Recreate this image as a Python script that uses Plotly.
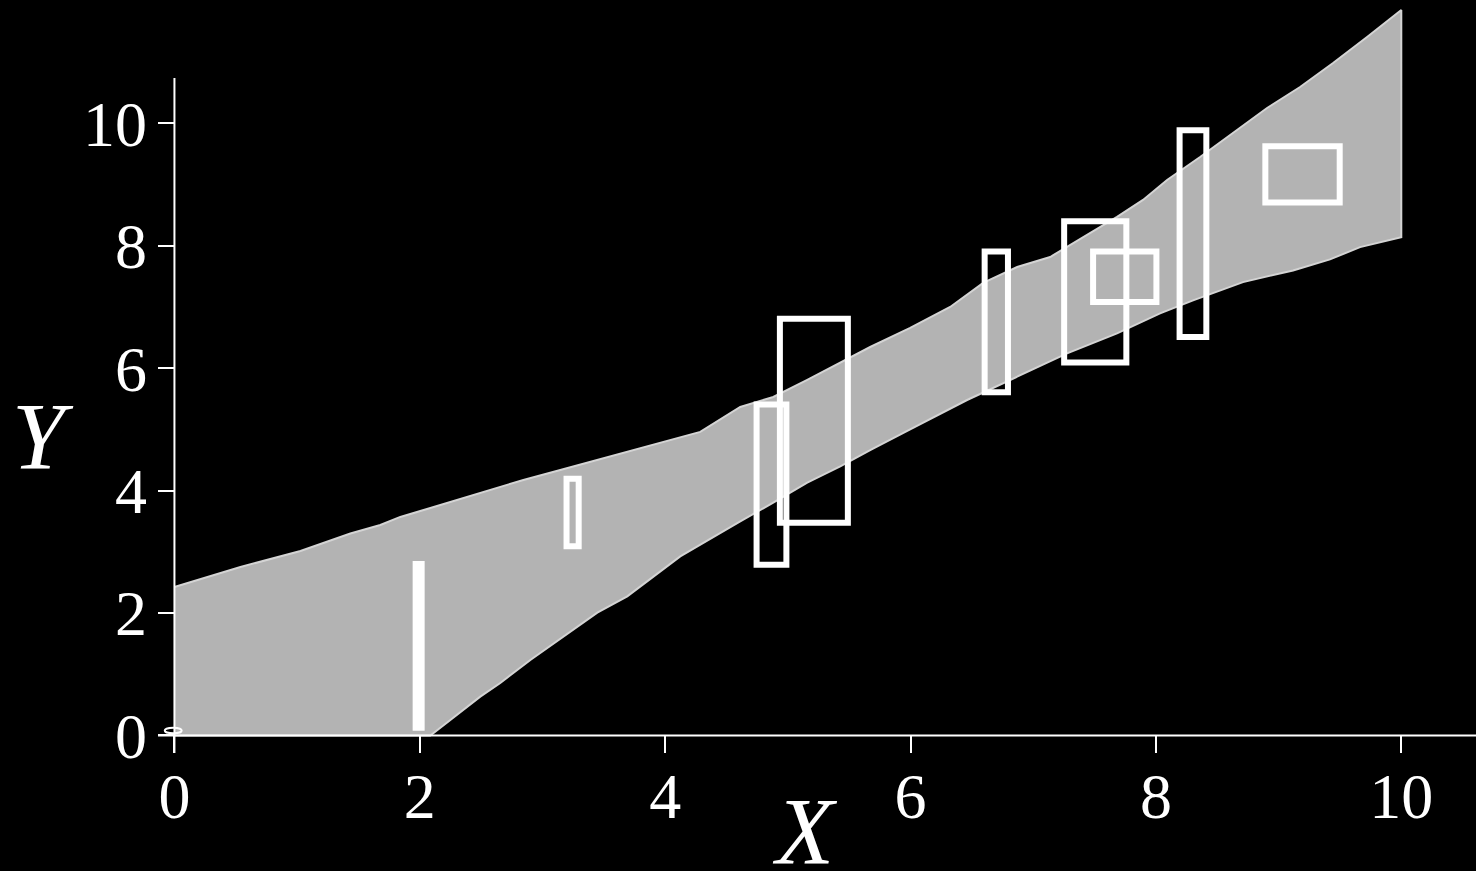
import plotly.graph_objects as go

# Confidence band: upper and lower boundaries
band_upper_x = [0.0, 0.212, 0.538, 1.027, 1.434, 1.678, 1.841, 2.086, 2.355, 2.632, 2.844,
                3.145, 3.471, 3.878, 4.286, 4.612, 4.881, 5.158, 5.427, 5.671, 5.997,
                6.323, 6.592, 6.869, 7.138, 7.407, 7.683, 7.895, 8.091, 8.360, 8.629,
                8.906, 9.175, 9.444, 9.721, 10.0]
band_upper_y = [2.426, 2.557, 2.753, 3.014, 3.300, 3.439, 3.570, 3.717, 3.880, 4.044, 4.174,
                4.338, 4.517, 4.730, 4.959, 5.367, 5.530, 5.808, 6.085, 6.346, 6.657,
                7.000, 7.392, 7.653, 7.816, 8.143, 8.470, 8.748, 9.074, 9.450, 9.842,
                10.250, 10.593, 10.985, 11.410, 11.851]
band_lower_x = [0.0, 2.086, 2.249, 2.493, 2.656, 2.901, 3.170, 3.447, 3.691, 3.903, 4.123,
                4.612, 4.881, 5.158, 5.427, 5.671, 5.997, 6.461, 6.869, 7.276, 7.683,
                8.034, 8.303, 8.710, 9.118, 9.419, 9.664, 10.0]
band_lower_y = [0.0, 0.0, 0.253, 0.634, 0.858, 1.233, 1.614, 2.006, 2.272, 2.599, 2.925,
                3.497, 3.802, 4.129, 4.396, 4.663, 5.000, 5.480, 5.861, 6.241, 6.568,
                6.895, 7.107, 7.406, 7.597, 7.777, 7.978, 8.141]

# Observations as boxes: x and y extents
box_x0 = [1.966, 3.196, 4.745, 4.935, 6.604, 7.252, 7.488, 8.193, 8.892]
box_x1 = [2.015, 3.295, 4.988, 5.489, 6.794, 7.759, 8.004, 8.411, 9.498]
box_y0 = [0.127, 3.091, 2.790, 3.476, 5.608, 6.093, 7.081, 6.509, 8.706]
box_y1 = [2.801, 4.195, 5.407, 6.808, 7.906, 8.401, 7.906, 9.886, 9.624]

# Small point at the origin drawn as an ellipse
origin_x = [-0.079, 0.059]
origin_y = [0.035, 0.128]

tick_vals = [0, 2, 4, 6, 8, 10]
x_range = [-0.134, 10.609]
y_range = [-0.286, 12.014]
y_axis_top = 10.74

FONT = "Liberation Serif"

fig = go.Figure()

poly_x = band_upper_x + band_lower_x[::-1]
poly_y = band_upper_y + band_lower_y[::-1]
fig.add_trace(go.Scatter(
    x=poly_x, y=poly_y, mode="lines", fill="toself",
    fillcolor="#b3b3b3", line=dict(color="#d4d4d4", width=2),
    hoverinfo="skip", showlegend=False,
))

shapes = []
for x0, x1, y0, y1 in zip(box_x0, box_x1, box_y0, box_y1):
    shapes.append(dict(type="rect", xref="x", yref="y", x0=x0, x1=x1, y0=y0, y1=y1,
                       line=dict(color="white", width=6), fillcolor="rgba(0,0,0,0)",
                       layer="above"))
shapes.append(dict(type="circle", xref="x", yref="y",
                   x0=origin_x[0], x1=origin_x[1], y0=origin_y[0], y1=origin_y[1],
                   line=dict(color="white", width=2), layer="above"))
# Axis lines crossing at the origin
shapes.append(dict(type="line", xref="paper", yref="y", x0=0, x1=1, y0=0, y1=0,
                   line=dict(color="white", width=2), layer="above"))
shapes.append(dict(type="line", xref="x", yref="y", x0=0, x1=0,
                   y0=y_range[0], y1=y_axis_top,
                   line=dict(color="white", width=2), layer="above"))

fig.update_layout(
    width=1476, height=871,
    margin=dict(l=158, r=0, t=0, b=118),
    paper_bgcolor="black", plot_bgcolor="black",
    shapes=shapes,
    showlegend=False,
    xaxis=dict(range=x_range, tickvals=tick_vals, ticks="inside", ticklen=17,
               tickwidth=2, tickcolor="white", showgrid=False, zeroline=False,
               showline=False, ticklabelstandoff=0,
               tickfont=dict(family=FONT, size=64, color="white")),
    yaxis=dict(range=y_range, tickvals=tick_vals, ticks="inside", ticklen=17,
               tickwidth=2, tickcolor="white", showgrid=False, zeroline=False,
               showline=False, ticklabelstandoff=10,
               tickfont=dict(family=FONT, size=64, color="white")),
    annotations=[
        dict(text="<i>X</i>", xref="x", yref="paper", x=5.14, y=-0.105,
             showarrow=False, font=dict(family=FONT, size=95, color="white"),
             xanchor="center", yanchor="middle"),
        dict(text="<i>Y</i>", xref="paper", yref="y", x=-0.0876, y=4.884,
             showarrow=False, font=dict(family=FONT, size=95, color="white"),
             xanchor="center", yanchor="middle"),
    ],
)

fig.write_html("out.html")
